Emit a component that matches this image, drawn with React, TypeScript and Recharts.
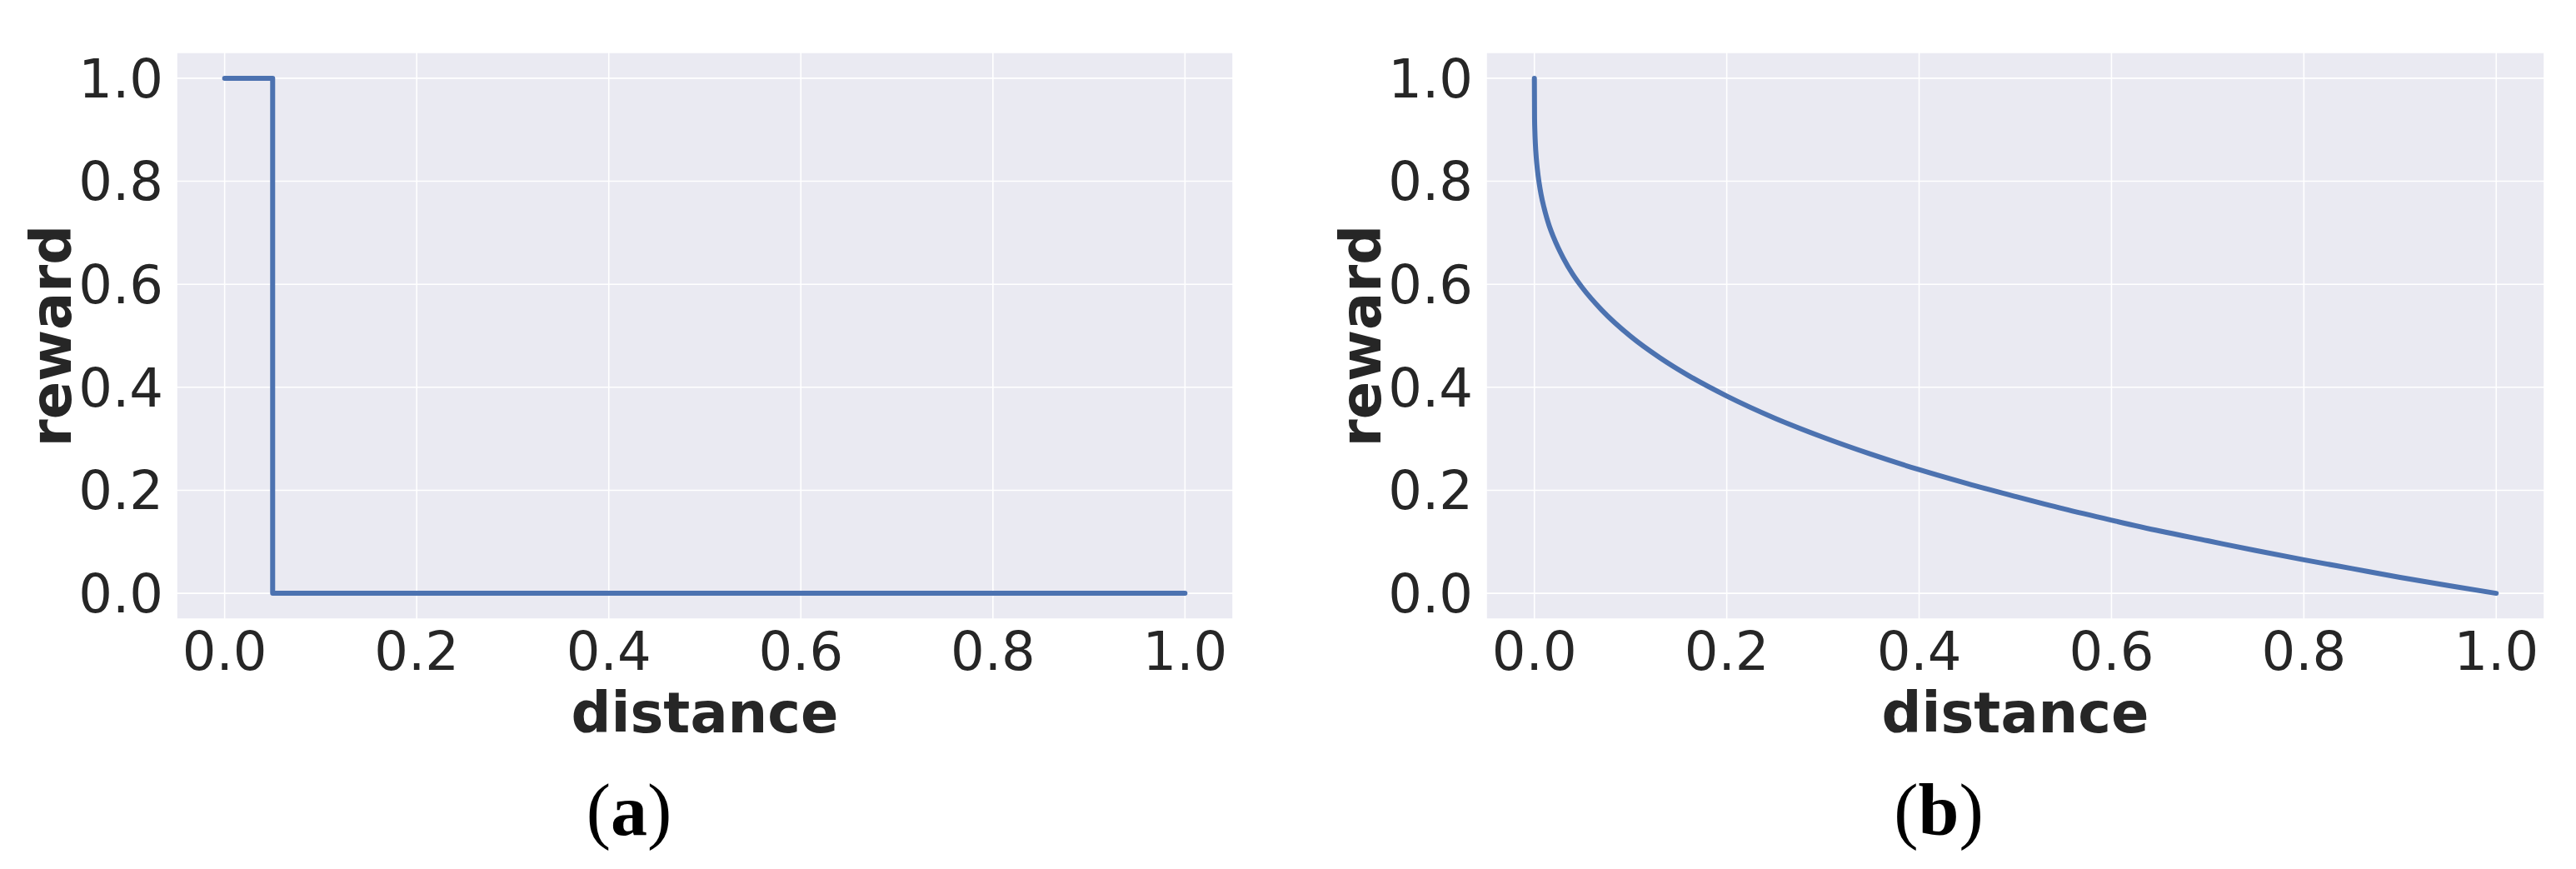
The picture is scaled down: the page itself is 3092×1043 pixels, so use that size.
import React from 'react';
import { LineChart, Line, XAxis, YAxis, CartesianGrid } from 'recharts';

// panel (a): binary reward, drops at distance 0.05
const distanceA = [0, 0.05, 1.0];
const rewardA = [1.0, 0.0, 0.0];

// panel (b): smooth decaying reward
const distanceB = [
  0, 0.0002, 0.0005, 0.001, 0.002, 0.003, 0.005, 0.007, 0.01, 0.015, 0.02, 0.03, 0.04, 0.05,
  0.07, 0.1, 0.13, 0.16, 0.2, 0.25, 0.3, 0.35, 0.4, 0.45, 0.5, 0.55, 0.6, 0.65, 0.7, 0.75, 0.8,
  0.85, 0.9, 0.95, 1.0,
];
const rewardB = [
  1.0, 0.922, 0.898, 0.874, 0.845, 0.825, 0.796, 0.774, 0.749, 0.716, 0.691, 0.651, 0.619, 0.593,
  0.55, 0.499, 0.458, 0.423, 0.383, 0.34, 0.303, 0.27, 0.24, 0.213, 0.188, 0.164, 0.142, 0.121,
  0.102, 0.083, 0.065, 0.048, 0.031, 0.015, 0.0,
];

const xTicks = [0, 0.2, 0.4, 0.6, 0.8, 1.0];
const yTicks = [0, 0.2, 0.4, 0.6, 0.8, 1.0];
const xLabel = 'distance';
const yLabel = 'reward';

const BLUE = '#4C72B0';
const BG = '#EAEAF2';
const INK = '#262626';
const SANS = 'DejaVu Sans';

const toRows = (xs: number[], ys: number[]) => xs.map((x, i) => ({ x, y: ys[i] }));

const XTitle = ({ viewBox }: any) => (
  <text
    x={viewBox.x + viewBox.width / 2}
    y={viewBox.y + 136}
    textAnchor="middle"
    fontFamily={SANS}
    fontWeight="bold"
    fontSize={67}
    fill={INK}
  >
    {xLabel}
  </text>
);

const YTitle = ({ viewBox }: any) => {
  const x = viewBox.x + 85;
  const y = viewBox.y + viewBox.height / 2;
  return (
    <text
      x={x}
      y={y}
      transform={`rotate(-90, ${x}, ${y})`}
      textAnchor="middle"
      fontFamily={SANS}
      fontWeight="bold"
      fontSize={67}
      fill={INK}
    >
      {yLabel}
    </text>
  );
};

interface PanelProps {
  rows: { x: number; y: number }[];
  left: number;
  width: number;
  curve: 'stepAfter' | 'monotone';
  letter: string;
  captionX: number;
}

const Panel: React.FC<PanelProps> = ({ rows, left, width, curve, letter, captionX }) => (
  <div style={{ position: 'absolute', left, top: 0 }}>
    <LineChart width={width} height={1043} data={rows} margin={{ top: 63, right: 20, bottom: 180, left: 0 }}>
      <CartesianGrid fill={BG} fillOpacity={1} stroke="#FFFFFF" strokeWidth={1.6} />
      <XAxis
        dataKey="x"
        type="number"
        domain={[-0.05, 1.05]}
        ticks={xTicks}
        allowDataOverflow
        height={120}
        axisLine={false}
        tickLine={false}
        tickSize={6}
        tickMargin={10}
        tickFormatter={(v: number) => v.toFixed(1)}
        tick={{ fontFamily: SANS, fontSize: 64, fill: INK }}
        label={<XTitle />}
      />
      <YAxis
        type="number"
        domain={[-0.05, 1.05]}
        ticks={yTicks}
        allowDataOverflow
        width={212}
        axisLine={false}
        tickLine={false}
        tickSize={6}
        tickMargin={10}
        tickFormatter={(v: number) => v.toFixed(1)}
        tick={{ fontFamily: SANS, fontSize: 64, fill: INK }}
        label={<YTitle />}
      />
      <Line
        type={curve}
        dataKey="y"
        stroke={BLUE}
        strokeWidth={6}
        strokeLinecap="round"
        strokeLinejoin="round"
        dot={false}
        activeDot={false}
        isAnimationActive={false}
      />
    </LineChart>
    <svg
      width={200}
      height={130}
      style={{ position: 'absolute', left: captionX - left - 100, top: 920 }}
    >
      <text x={100} y={82} textAnchor="middle" fontFamily="Liberation Serif" fontSize={88} fill="#000">
        (<tspan fontWeight="bold">{letter}</tspan>)
      </text>
    </svg>
  </div>
);

export default function App() {
  return (
    <div style={{ position: 'absolute', left: 0, top: 0, width: 3092, height: 1043, background: '#fff' }}>
      <Panel rows={toRows(distanceA, rewardA)} left={0} width={1500} curve="stepAfter" letter="a" captionX={755} />
      <Panel rows={toRows(distanceB, rewardB)} left={1572} width={1502} curve="monotone" letter="b" captionX={2327} />
    </div>
  );
}
